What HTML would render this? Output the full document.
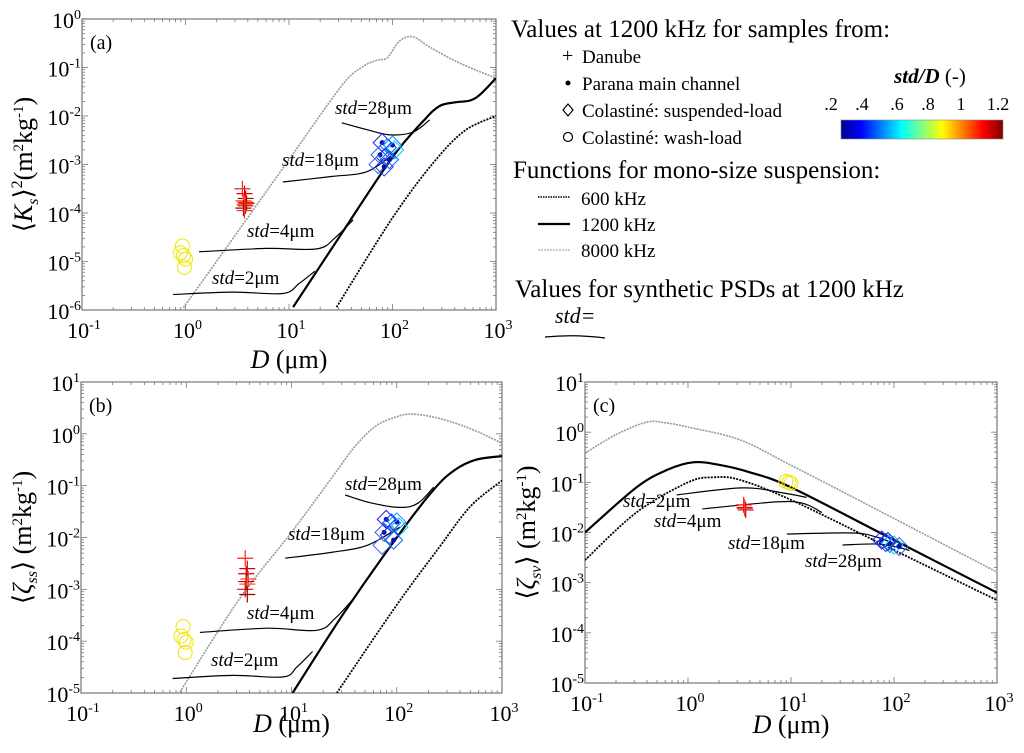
<!DOCTYPE html>
<html><head><meta charset="utf-8">
<style>
html,body{margin:0;padding:0;background:#fff;}
svg{display:block;font-family:"Liberation Serif",serif;}
</style></head>
<body>
<svg id="fig" width="1024" height="753" viewBox="0 0 1024 753" xmlns="http://www.w3.org/2000/svg">
  <g id="legend">
    <text x="511" y="37" font-size="25">Values at 1200 kHz for samples from:</text>
    <text x="562" y="62" font-size="20">+</text>
    <text x="582" y="63" font-size="19">Danube</text>
    <circle cx="568" cy="83" r="2.5" fill="#000"/>
    <text x="582" y="90" font-size="19">Parana main channel</text>
    <path d="M568 104 L573 110 L568 116 L563 110 Z" fill="none" stroke="#000" stroke-width="1.2"/>
    <text x="582" y="117" font-size="19">Colastiné: suspended-load</text>
    <circle cx="568" cy="137" r="4.5" fill="none" stroke="#000" stroke-width="1.2"/>
    <text x="582" y="144" font-size="19">Colastiné: wash-load</text>
    <text x="930" y="83" font-size="21" text-anchor="middle"><tspan font-style="italic" font-weight="bold">std/D</tspan> (-)</text>
    <defs><linearGradient id="jet" x1="0" x2="1" y1="0" y2="0">
      <stop offset="0" stop-color="#00008f"/><stop offset="0.125" stop-color="#0000ff"/><stop offset="0.375" stop-color="#00ffff"/><stop offset="0.625" stop-color="#ffff00"/><stop offset="0.875" stop-color="#ff0000"/><stop offset="1" stop-color="#800000"/>
    </linearGradient></defs>
    <rect x="841" y="120" width="162" height="19" fill="url(#jet)" stroke="#888" stroke-width="0.6"/>
    <g font-size="18" text-anchor="middle">
      <text x="831" y="110">.2</text><text x="862" y="110">.4</text><text x="897" y="110">.6</text><text x="928" y="110">.8</text><text x="961" y="110">1</text><text x="998" y="110">1.2</text>
    </g>
    <text x="513" y="178" font-size="25">Functions for mono-size suspension:</text>
    <line x1="538" y1="197" x2="570" y2="197" stroke="#000" stroke-width="1.6" stroke-dasharray="1.5,1"/>
    <text x="581" y="205" font-size="19">600 kHz</text>
    <line x1="538" y1="224" x2="570" y2="224" stroke="#000" stroke-width="2.2"/>
    <text x="581" y="231" font-size="19">1200 kHz</text>
    <line x1="538" y1="250" x2="570" y2="250" stroke="#bbb" stroke-width="1.4" stroke-dasharray="2,1"/>
    <text x="581" y="257" font-size="19">8000 kHz</text>
    <text x="515" y="297" font-size="25">Values for synthetic PSDs at 1200 kHz</text>
    <text x="555" y="323" font-size="22" font-style="italic">std=</text>
    <path d="M545 337 Q575 334 605 338" fill="none" stroke="#000" stroke-width="1.2"/>
  </g>
</svg>
<script>
// ---------- DATA (log10 values) ----------
// Panel (a)
const a8000_logD = [-0.02, 0.5, 1.0, 1.5, 1.7, 1.85, 1.95, 2.07, 2.2, 2.36, 2.65, 3.0];
const a8000_logY = [-5.95, -4.4, -2.9, -1.4, -1.0, -0.85, -0.8, -0.45, -0.37, -0.58, -0.91, -1.22];
const a1200_logD = [1.04, 1.5, 2.0, 2.3, 2.45, 2.6, 2.75, 2.85, 3.0];
const a1200_logY = [-5.94, -4.45, -2.85, -2.1, -1.8, -1.72, -1.68, -1.55, -1.22];
const a600_logD = [1.46, 2.0, 2.4, 2.7, 3.0];
const a600_logY = [-5.94, -4.1, -2.95, -2.3, -2.0];
const aStd28_logD = [1.51, 1.75, 1.98, 2.2, 2.36];
const aStd28_logY = [-2.14, -2.28, -2.39, -2.33, -2.08];
const aStd18_logD = [0.94, 1.4, 1.75, 2.0];
const aStd18_logY = [-3.36, -3.25, -3.15, -2.8];
const aStd4_logD = [0.13, 0.78, 1.27, 1.45, 1.62];
const aStd4_logY = [-4.8, -4.73, -4.74, -4.5, -4.14];
const aStd2_logD = [-0.12, 0.46, 0.94, 1.1, 1.25];
const aStd2_logY = [-5.68, -5.63, -5.66, -5.45, -5.2];
const aDanube_logD = [0.55, 0.57, 0.58, 0.56, 0.59, 0.57, 0.58, 0.56, 0.57, 0.58];
const aDanube_logY = [-3.5, -3.6, -3.7, -3.75, -3.8, -3.82, -3.85, -3.9, -3.95, -3.78];
const aDiam_logD = [1.9, 1.95, 2.0, 2.02, 1.88, 1.93, 1.97, 1.86, 1.92];
const aDiam_logY = [-2.55, -2.65, -2.6, -2.7, -2.8, -2.85, -2.9, -3.0, -3.05];
const aCirc_logD = [-0.03, -0.05, -0.02, 0.0, -0.01];
const aCirc_logY = [-4.68, -4.82, -4.88, -4.95, -5.12];
// Panel (b)
const b8000_logD = [-0.06, 0.5, 1.0, 1.4, 1.6, 1.8, 2.0, 2.15, 2.4, 2.7, 3.0];
const b8000_logY = [-4.98, -3.2, -1.9, -0.8, -0.25, 0.15, 0.33, 0.38, 0.3, 0.1, -0.18];
const b1200_logD = [1.01, 1.5, 2.0, 2.35, 2.55, 2.75, 3.0];
const b1200_logY = [-5.0, -3.45, -2.0, -1.08, -0.7, -0.5, -0.43];
const b600_logD = [1.43, 2.0, 2.4, 2.7, 3.0];
const b600_logY = [-5.0, -3.3, -2.2, -1.4, -0.9];
const bStd28_logD = [1.51, 1.75, 2.03, 2.2, 2.35];
const bStd28_logY = [-1.18, -1.33, -1.42, -1.34, -1.03];
const bStd18_logD = [0.94, 1.4, 1.72, 2.03];
const bStd18_logY = [-2.4, -2.28, -2.15, -1.8];
const bStd4_logD = [0.13, 0.77, 1.24, 1.42, 1.6];
const bStd4_logY = [-3.83, -3.75, -3.79, -3.55, -3.15];
const bStd2_logD = [-0.13, 0.44, 0.92, 1.05, 1.2];
const bStd2_logY = [-4.72, -4.66, -4.69, -4.5, -4.2];
const bDanube_logD = [0.56, 0.58, 0.57, 0.59, 0.57, 0.58, 0.56, 0.58];
const bDanube_logY = [-2.4, -2.6, -2.7, -2.8, -2.85, -2.9, -3.0, -3.1];
const bDiam_logD = [1.9, 1.95, 2.0, 2.02, 1.88, 1.93, 1.97, 1.86];
const bDiam_logY = [-1.65, -1.72, -1.7, -1.8, -1.9, -1.95, -2.05, -2.15];
const bCirc_logD = [-0.03, -0.05, -0.02, 0.0, -0.01];
const bCirc_logY = [-3.72, -3.9, -3.97, -4.02, -4.22];
// Panel (c)
const c8000_logD = [-1.0, -0.7, -0.4, -0.2, 0.0, 0.5, 1.0, 2.0, 3.0];
const c8000_logY = [-0.42, -0.05, 0.2, 0.18, 0.1, -0.15, -0.66, -1.72, -2.79];
const c1200_logD = [-1.0, -0.5, -0.2, 0.05, 0.3, 0.6, 1.0, 2.0, 3.0];
const c1200_logY = [-2.0, -1.1, -0.75, -0.6, -0.65, -0.8, -1.1, -2.15, -3.2];
const c600_logD = [-1.0, -0.5, 0.0, 0.25, 0.5, 1.0, 2.0, 3.0];
const c600_logY = [-2.55, -1.6, -1.0, -0.9, -0.95, -1.35, -2.35, -3.35];
const cStd2_logD = [-0.11, 0.53, 0.92, 1.15];
const cStd2_logY = [-1.25, -1.11, -1.21, -1.3];
const cStd4_logD = [0.14, 0.86, 1.12, 1.3];
const cStd4_logY = [-1.53, -1.39, -1.42, -1.6];
const cStd18_logD = [0.96, 1.6, 1.83, 2.0];
const cStd18_logY = [-2.03, -2.01, -2.09, -2.22];
const cStd28_logD = [1.5, 1.83, 2.03, 2.15];
const cStd28_logY = [-2.25, -2.23, -2.29, -2.36];
const cDanube_logD = [0.54, 0.55, 0.56, 0.55];
const cDanube_logY = [-1.45, -1.5, -1.55, -1.52];
const cDiam_logD = [1.88, 1.92, 1.96, 2.0, 2.05, 1.94];
const cDiam_logY = [-2.15, -2.2, -2.22, -2.25, -2.28, -2.18];
const cCirc_logD = [0.95, 0.98, 1.0];
const cCirc_logY = [-0.98, -1.0, -1.02];

const tickExpX = [-1, 0, 1, 2, 3];

// ---------- DRAW ----------
const svg = document.getElementById('fig');
const NS = 'http://www.w3.org/2000/svg';
function mk(tag, attrs, parent) {
  const e = document.createElementNS(NS, tag);
  for (const k in attrs) e.setAttribute(k, attrs[k]);
  (parent || svg).appendChild(e);
  return e;
}
function smoothPath(pts) {
  let d = 'M' + pts[0][0].toFixed(1) + ' ' + pts[0][1].toFixed(1);
  for (let i = 0; i < pts.length - 1; i++) {
    const p0 = pts[i - 1] || pts[i], p1 = pts[i], p2 = pts[i + 1], p3 = pts[i + 2] || p2;
    const c1x = p1[0] + (p2[0] - p0[0]) / 6, c1y = p1[1] + (p2[1] - p0[1]) / 6;
    const c2x = p2[0] - (p3[0] - p1[0]) / 6, c2y = p2[1] - (p3[1] - p1[1]) / 6;
    d += ' C' + c1x.toFixed(1) + ' ' + c1y.toFixed(1) + ' ' + c2x.toFixed(1) + ' ' + c2y.toFixed(1) + ' ' + p2[0].toFixed(1) + ' ' + p2[1].toFixed(1);
  }
  return d;
}
function tenLabel(parent, x, y, exp, anchor) {
  const t = mk('text', {x: x, y: y, 'font-size': 22, 'text-anchor': anchor}, parent);
  t.appendChild(document.createTextNode('10'));
  const s = mk('tspan', {dy: -9, 'font-size': 14}, t);
  s.textContent = String(exp);
  return t;
}
const jetCols = ['#1a1aff', '#0050ff', '#0090ff', '#00c8ff', '#3355dd', '#2222cc', '#0066ee', '#4466ff', '#1144dd'];
const redCols = ['#ff2020', '#e00000', '#c00000', '#ff4040', '#b00000', '#ff6020', '#d01010', '#a00000', '#ff3030', '#e02000'];

function panel(P) {
  const g = mk('g', {});
  
  
  const sx = v => P.x0 + (v - P.xmin) / (P.xmax - P.xmin) * (P.x1 - P.x0);
  const sy = v => P.y1 - (v - P.ymin) / (P.ymax - P.ymin) * (P.y1 - P.y0);
  const clip = mk('clipPath', {id: 'clip-' + P.id}, g);
  mk('rect', {x: P.x0, y: P.y0, width: P.x1 - P.x0, height: P.y1 - P.y0}, clip);
  const box = mk('rect', {x: P.x0, y: P.y0, width: P.x1 - P.x0, height: P.y1 - P.y0, fill: 'none', stroke: '#777', 'stroke-width': 1.2}, g);
  
  
  const tg = mk('g', {stroke: '#777', 'stroke-width': 0.8}, g);
  
  
  for (let e = P.xmin; e <= P.xmax; e++) {
    for (let m = 1; m < 10; m++) {
      const v = e + Math.log10(m);
      if (v > P.xmax + 1e-9) break;
      const L = m === 1 ? 6 : 3, x = sx(v);
      mk('line', {x1: x, y1: P.y1, x2: x, y2: P.y1 - L}, tg);
      mk('line', {x1: x, y1: P.y0, x2: x, y2: P.y0 + L}, tg);
    }
  }
  for (let e = P.ymin; e <= P.ymax; e++) {
    for (let m = 1; m < 10; m++) {
      const v = e + Math.log10(m);
      if (v > P.ymax + 1e-9) break;
      const L = m === 1 ? 6 : 3, y = sy(v);
      mk('line', {x1: P.x0, y1: y, x2: P.x0 + L, y2: y}, tg);
      mk('line', {x1: P.x1, y1: y, x2: P.x1 - L, y2: y}, tg);
    }
  }
  const xl = mk('g', {}, g);
  
  
  tickExpX.forEach(e => tenLabel(xl, sx(e) + 2, P.y1 + 28, e, 'middle'));
  const yl = mk('g', {}, g);
  
  
  for (let e = P.ymin; e <= P.ymax; e++) tenLabel(yl, P.x0 - 1, sy(e) + 9, e, 'end');
  const xt = mk('text', {x: (P.x0 + P.x1) / 2, y: P.y1 + P.xtOff, 'font-size': 26, 'text-anchor': 'middle'}, g);
  xt.innerHTML = '<tspan font-style="italic">D</tspan> (μm)';
  
  
  const cy = (P.y0 + P.y1) / 2;
  const yt = mk('text', {x: 0, y: 0, 'font-size': 26, 'text-anchor': 'middle', transform: 'translate(' + (P.x0 - 50) + ',' + cy + ') rotate(-90)'}, g);
  yt.innerHTML = P.ytitle;
  
  
  const pl = mk('text', {x: P.x0 + 8, y: P.y0 + 30, 'font-size': 20}, g);
  pl.textContent = P.label;
  
  
  const cg = mk('g', {'clip-path': 'url(#clip-' + P.id + ')'}, g);
  P.curves.forEach(c => {
    const pts = c.d.map((v, i) => [sx(v), sy(c.y[i])]);
    const p = mk('path', {d: smoothPath(pts), fill: 'none', stroke: c.col, 'stroke-width': c.w}, cg);
    if (c.dash) p.setAttribute('stroke-dasharray', c.dash);
    
    
  });
  P.circ.d.forEach((v, i) => {
    const c = mk('circle', {cx: sx(v), cy: sy(P.circ.y[i]), r: 7, fill: 'none', stroke: '#f0e600', 'stroke-width': 1}, cg);
    
    
  });
  P.dan.d.forEach((v, i) => {
    const x = sx(v), y = sy(P.dan.y[i]);
    const p = mk('path', {d: 'M' + (x - 8) + ' ' + y + ' H' + (x + 8) + ' M' + x + ' ' + (y - 8) + ' V' + (y + 8), stroke: redCols[i % redCols.length], 'stroke-width': 1.2, fill: 'none'}, cg);
    
    
  });
  P.diam.d.forEach((v, i) => {
    const x = sx(v), y = sy(P.diam.y[i]);
    const p = mk('path', {d: 'M' + x + ' ' + (y - 9) + ' L' + (x + 9) + ' ' + y + ' L' + x + ' ' + (y + 9) + ' L' + (x - 9) + ' ' + y + ' Z', stroke: jetCols[i % jetCols.length], 'stroke-width': 1, fill: 'none'}, cg);
    
    
    if (i % 2 === 0) {
      const d = mk('circle', {cx: x, cy: y, r: 2.5, fill: '#0010c0'}, cg);
      
      
    }
  });
  P.stdLabels.forEach(s => {
    const t = mk('text', {x: s[0], y: s[1], 'font-size': 19}, g);
    t.innerHTML = '<tspan font-style="italic">std</tspan>=' + s[2] + 'μm';
    
    
  });
}
const S8000 = {col: '#999', w: 1.6, dash: '2,1'}, S1200 = {col: '#000', w: 2.2}, S600 = {col: '#000', w: 1.8, dash: '2,1.2'}, SS = {col: '#000', w: 1.2};
function C(st, d, y, name) { return Object.assign({}, st, {d: d, y: y, name: name}); }

panel({id: 'a', name: 'panel-a-ks2', label: '(a)', x0: 82, x1: 496, y0: 19, y1: 310, xmin: -1, xmax: 3, ymin: -6, ymax: 0, xtOff: 58,
  ytitle: '⟨<tspan font-style="italic">K</tspan><tspan font-size="16" font-style="italic" dy="6">s</tspan><tspan dy="-6">⟩</tspan><tspan font-size="16" dy="-10">2</tspan><tspan dy="10">(m</tspan><tspan font-size="15" dy="-9">2</tspan><tspan dy="9">kg</tspan><tspan font-size="15" dy="-9">-1</tspan><tspan dy="9">)</tspan>',
  curves: [C(S8000, a8000_logD, a8000_logY, 'line-8000khz'), C(S1200, a1200_logD, a1200_logY, 'line-1200khz'), C(S600, a600_logD, a600_logY, 'line-600khz'),
    C(SS, aStd28_logD, aStd28_logY, 'line-std-28'), C(SS, aStd18_logD, aStd18_logY, 'line-std-18'), C(SS, aStd4_logD, aStd4_logY, 'line-std-4'), C(SS, aStd2_logD, aStd2_logY, 'line-std-2')],
  dan: {d: aDanube_logD, y: aDanube_logY}, diam: {d: aDiam_logD, y: aDiam_logY}, circ: {d: aCirc_logD, y: aCirc_logY},
  stdLabels: [[335, 114, 28], [282, 166, 18], [247, 237, 4], [212, 284, 2]]});

panel({id: 'b', name: 'panel-b-zeta-ss', label: '(b)', x0: 81, x1: 502, y0: 382, y1: 693, xmin: -1, xmax: 3, ymin: -5, ymax: 1, xtOff: 39,
  ytitle: '⟨<tspan font-style="italic">ζ</tspan><tspan font-size="16" font-style="italic" dy="6">ss</tspan><tspan dy="-6">⟩ (m</tspan><tspan font-size="15" dy="-9">2</tspan><tspan dy="9">kg</tspan><tspan font-size="15" dy="-9">-1</tspan><tspan dy="9">)</tspan>',
  curves: [C(S8000, b8000_logD, b8000_logY, 'line-8000khz'), C(S1200, b1200_logD, b1200_logY, 'line-1200khz'), C(S600, b600_logD, b600_logY, 'line-600khz'),
    C(SS, bStd28_logD, bStd28_logY, 'line-std-28'), C(SS, bStd18_logD, bStd18_logY, 'line-std-18'), C(SS, bStd4_logD, bStd4_logY, 'line-std-4'), C(SS, bStd2_logD, bStd2_logY, 'line-std-2')],
  dan: {d: bDanube_logD, y: bDanube_logY}, diam: {d: bDiam_logD, y: bDiam_logY}, circ: {d: bCirc_logD, y: bCirc_logY},
  stdLabels: [[345, 490, 28], [288, 540, 18], [247, 619, 4], [211, 666, 2]]});

panel({id: 'c', name: 'panel-c-zeta-sv', label: '(c)', x0: 585, x1: 997, y0: 382, y1: 683, xmin: -1, xmax: 3, ymin: -5, ymax: 1, xtOff: 50,
  ytitle: '⟨<tspan font-style="italic">ζ</tspan><tspan font-size="16" font-style="italic" dy="6">sv</tspan><tspan dy="-6">⟩ (m</tspan><tspan font-size="15" dy="-9">2</tspan><tspan dy="9">kg</tspan><tspan font-size="15" dy="-9">-1</tspan><tspan dy="9">)</tspan>',
  curves: [C(S8000, c8000_logD, c8000_logY, 'line-8000khz'), C(S1200, c1200_logD, c1200_logY, 'line-1200khz'), C(S600, c600_logD, c600_logY, 'line-600khz'),
    C(SS, cStd2_logD, cStd2_logY, 'line-std-2'), C(SS, cStd4_logD, cStd4_logY, 'line-std-4'), C(SS, cStd18_logD, cStd18_logY, 'line-std-18'), C(SS, cStd28_logD, cStd28_logY, 'line-std-28')],
  dan: {d: cDanube_logD, y: cDanube_logY}, diam: {d: cDiam_logD, y: cDiam_logY}, circ: {d: cCirc_logD, y: cCirc_logY},
  stdLabels: [[623, 507, 2], [654, 527, 4], [728, 549, 18], [805, 567, 28]]});
</script>
</body></html>
